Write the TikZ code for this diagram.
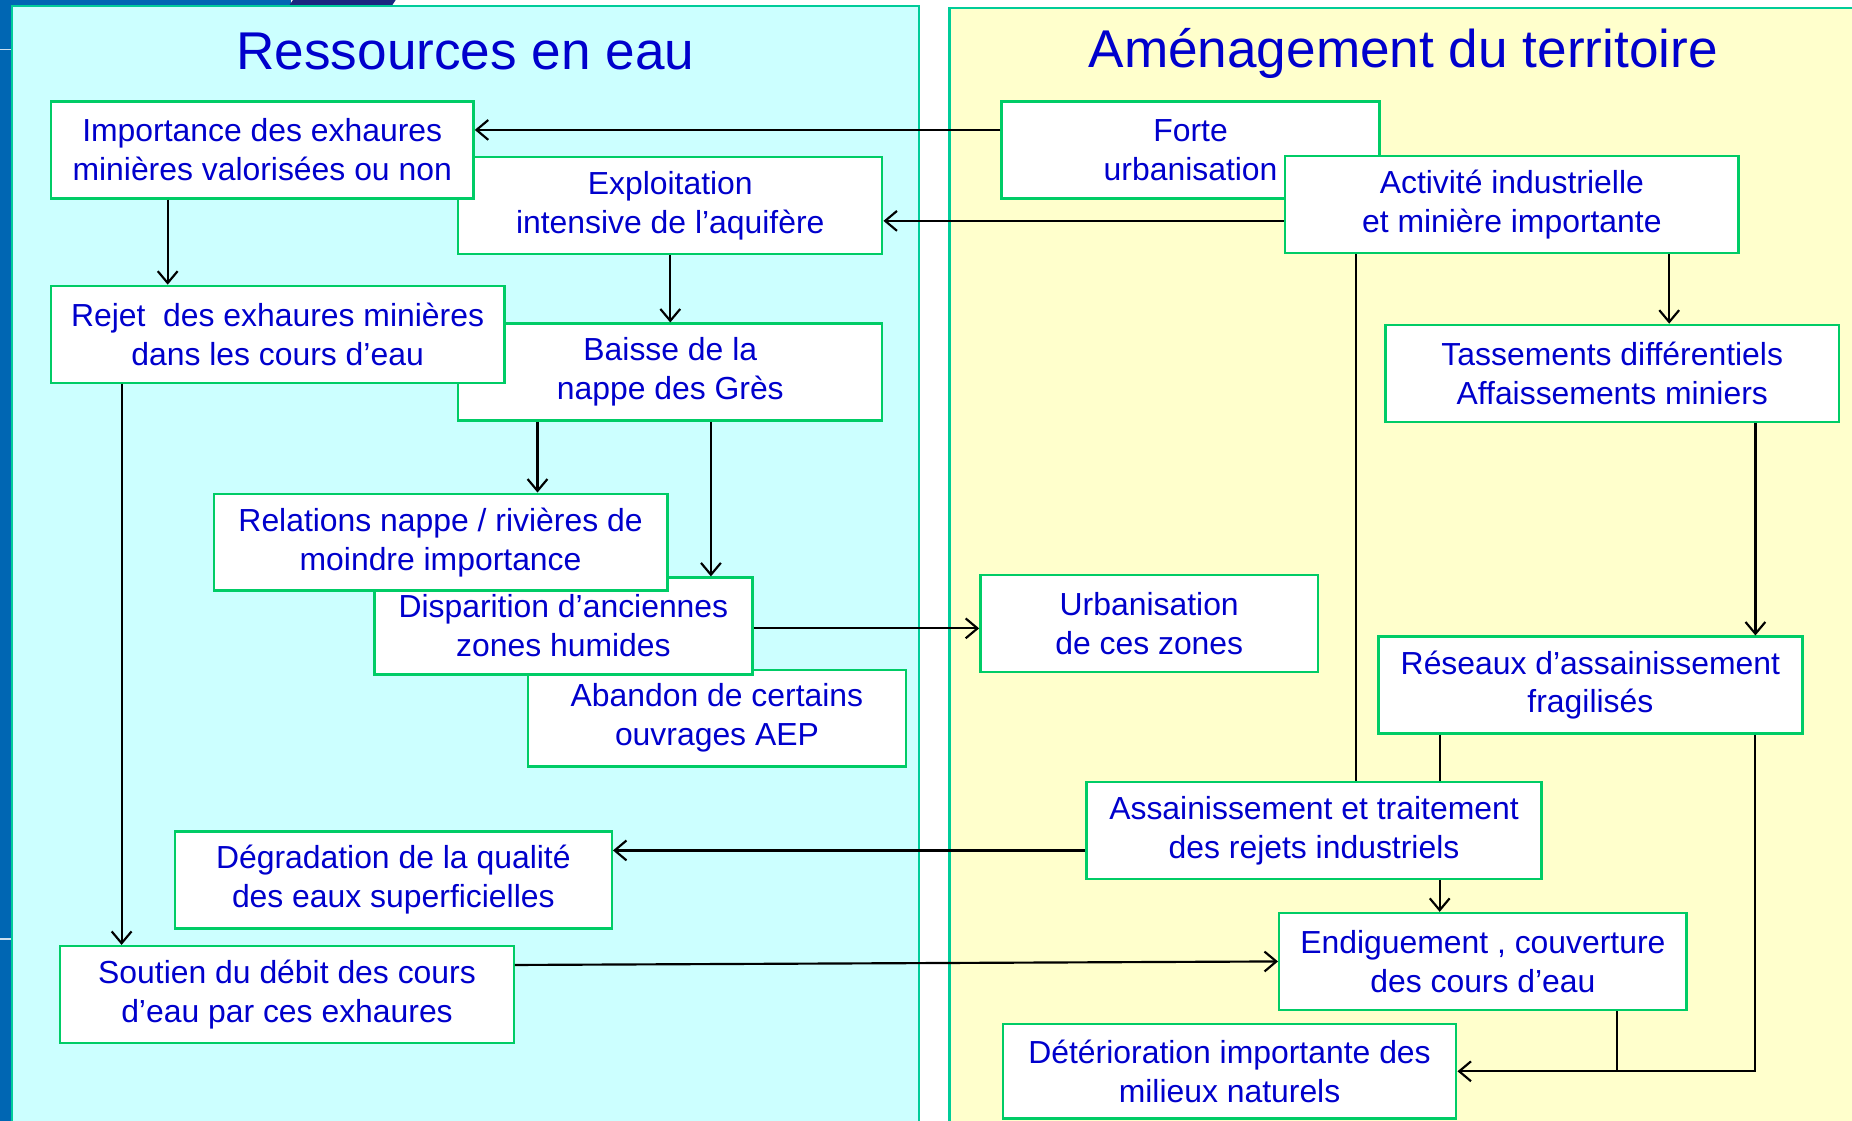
\documentclass[tikz,border=0pt]{standalone}
\usepackage{fontspec}
\setmainfont{Liberation Sans}
\usetikzlibrary{arrows.meta}

\definecolor{txtblue}{RGB}{0,0,204}
\definecolor{boxgreen}{RGB}{0,204,102}
\definecolor{panelline}{RGB}{0,204,153}
\definecolor{watercyan}{RGB}{204,255,255}
\definecolor{landyellow}{RGB}{255,255,204}
\definecolor{slideblue}{RGB}{0,102,179}
\definecolor{slidenavy}{RGB}{28,38,128}

\begin{document}
\begin{tikzpicture}[x=0.025cm, y=-0.025cm,
  box/.style={draw=boxgreen, line width=1.4pt, fill=white, text=txtblue, align=center,
    minimum height=2.05cm, inner sep=2pt, font=\fontsize{19.2}{23.4}\selectfont},
  boxw/.style={minimum width=#1*0.025cm},
  heading/.style={text=txtblue, font=\fontsize{32}{38}\selectfont},
  link/.style={line width=1.3pt},
  >={Straight Barb[length=2.5mm,width=4.2mm]}]

\useasboundingbox (0,0) rectangle (1568,949);

% slide frame
\fill[slideblue] (0,0) rectangle (10,949);
\fill[slideblue] (0,0) rectangle (246,6);
\fill[slidenavy] (244,6) -- (248,0) -- (335,0) -- (331,6) -- cycle;
\foreach \y in {42, 795} {
\draw[white!80!slideblue, line width=0.8pt] (0,\y) -- (9,\y);
}

% the two panels
\filldraw[fill=watercyan, draw=panelline, line width=1.4pt] (10,5) rectangle (778,960);
\filldraw[fill=landyellow, draw=panelline, line width=1.4pt] (804,7) rectangle (1580,960);
\node[heading] (waterT) at (394,44) {Ressources en eau};
\node[heading] (landT) at (1188,45) {Aménagement du territoire};

% left column
\node[box, boxw=359] (expl) at (567.5,174) {Exploitation\\intensive de l’aquifère};
\node[box, boxw=358] (imp) at (222,127) {Importance des exhaures\\minières valorisées ou non};
\node[box, boxw=359] (baisse) at (567.5,315) {Baisse de la\\nappe des Grès};
\node[box, boxw=384] (rejet) at (235,283) {Rejet\ \ des exhaures minières\\dans les cours d’eau};
\node[box, boxw=320] (aband) at (607,608) {Abandon de certains\\ouvrages AEP};
\node[box, boxw=320] (disp) at (477,530) {Disparition d’anciennes\\zones humides};
\node[box, boxw=384] (relat) at (373,459) {Relations nappe / rivières de\\moindre importance};
\node[box, boxw=370] (degr) at (333,745) {Dégradation de la qualité\\des eaux superficielles};
\node[box, boxw=384] (sout) at (243,842) {Soutien du débit des cours\\d’eau par ces exhaures};

% right column
\node[box, boxw=320] (forte) at (1008,127) {Forte\\urbanisation};
\node[box, boxw=384] (act) at (1280,173) {Activité industrielle\\et minière importante};
\node[box, boxw=384] (tass) at (1365,316) {Tassements différentiels\\Affaissements miniers};
\node[box, boxw=286] (urb) at (973,528) {Urbanisation\\de ces zones};
\node[box, boxw=359] (reseau) at (1346.5,580) {Réseaux d’assainissement\\fragilisés};
\node[box, boxw=385] (assain) at (1112.5,703) {Assainissement et traitement\\des rejets industriels};
\node[box, boxw=345] (endig) at (1255.5,814) {Endiguement , couverture\\des cours d’eau};
\node[box, boxw=384, minimum height=2cm] (deter) at (1041,907) {Détérioration importante des\\milieux naturels};

% links across the panels
\draw[link, ->] ([yshift=0.425cm]forte.west) -- ([yshift=0.425cm]forte.west -| imp.east);
\draw[link, ->] ([yshift=-0.35cm]act.west) -- ([yshift=-0.35cm]act.west -| expl.east);
\draw[link, ->] ([yshift=-0.05cm]disp.east) -- ([yshift=-0.05cm]disp.east -| urb.west);
\draw[link, ->] ([yshift=-0.425cm]assain.west) -- ([yshift=-0.425cm]assain.west -| degr.east);
\draw[link, ->] ([yshift=0.625cm]sout.east) -- (endig.west);

% water side
\draw[link, ->] ([xshift=-2cm]imp.south) -- ([xshift=-2cm]imp.south |- rejet.north);
\draw[link, ->] (expl.south) -- (baisse.north);
\draw[link, ->] ([xshift=-3.3cm]rejet.south) -- ([xshift=-3.3cm]rejet.south |- sout.north);
\draw[link, ->] ([xshift=-2.81cm]baisse.south) -- ([xshift=-2.81cm]baisse.south |- relat.north);
\draw[link, ->] ([xshift=0.86cm]baisse.south) -- ([xshift=0.86cm]baisse.south |- disp.north);

% land side
\draw[link, ->] ([xshift=3.33cm]act.south) -- ([xshift=3.33cm]act.south |- tass.north);
\draw[link, ->] ([xshift=3.03cm]tass.south) -- ([xshift=3.03cm]tass.south |- reseau.north);
\draw[link] ([xshift=-3.3cm]act.south) -- ([xshift=-3.3cm]act.south |- assain.north);
\draw[link] ([xshift=-3.19cm]reseau.south) -- ([xshift=-3.19cm]reseau.south |- assain.north);
\draw[link, ->] ([xshift=2.66cm]assain.south) -- ([xshift=2.66cm]assain.south |- endig.north);
\draw[link, ->] ([xshift=3.49cm]reseau.south) |- (deter.east);
\draw[link] ([xshift=2.84cm]endig.south) -- ([xshift=2.84cm]endig.south |- deter.east);

\end{tikzpicture}
\end{document}
